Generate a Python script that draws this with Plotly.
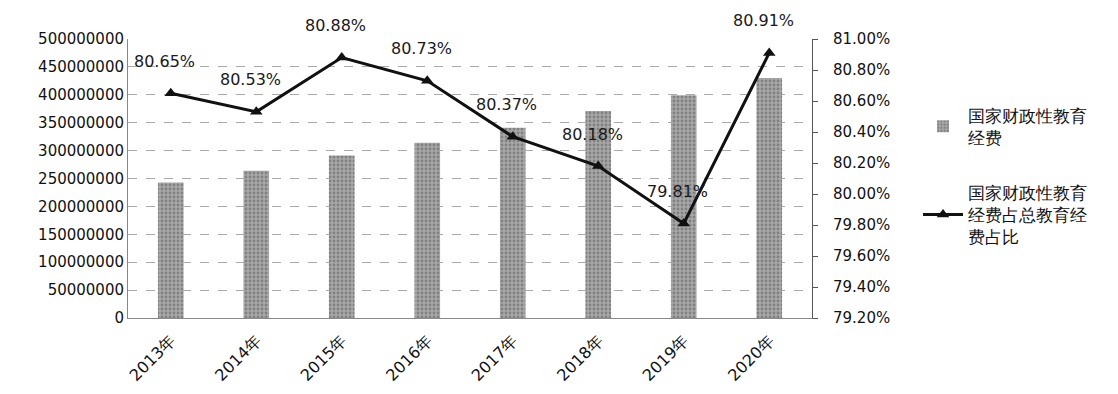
import plotly.graph_objects as go

years = ["2013年", "2014年", "2015年", "2016年", "2017年", "2018年", "2019年", "2020年"]
funding = [243000000, 264000000, 291000000, 314000000, 341000000, 371000000, 399000000, 430000000]
share = [80.65, 80.53, 80.88, 80.73, 80.37, 80.18, 79.81, 80.91]
share_labels = ["80.65%", "80.53%", "80.88%", "80.73%", "80.37%", "80.18%", "79.81%", "80.91%"]
left_ticks = list(range(0, 500000001, 50000000))
right_ticks = [79.2, 79.4, 79.6, 79.8, 80.0, 80.2, 80.4, 80.6, 80.8, 81.0]

FONT = "DejaVu Sans"

fig = go.Figure()
fig.add_trace(go.Bar(
    x=years, y=funding, name="国家财政性教育<br>经费",
    width=0.3, legendgroup="a",
    marker=dict(color="#a0a0a0", line=dict(width=0),
                pattern=dict(shape=".", fgcolor="#5a5a5a", bgcolor="#a8a8a8", size=4, solidity=0.4)),
))
fig.add_trace(go.Scatter(
    x=years, y=share, name="国家财政性教育<br>经费占总教育经<br>费占比", yaxis="y2",
    mode="lines+markers", legendgroup="b",
    line=dict(color="#111111", width=3),
    marker=dict(symbol="triangle-up", size=11, color="#111111"),
))
for x, y, t in zip(years, share, share_labels):
    fig.add_annotation(x=x, y=y, yref="y2", text=t, showarrow=False,
                       yshift=32, xshift=-6,
                       font=dict(family=FONT, size=16, color="#1a1a1a"))

fig.update_layout(
    width=1118, height=394,
    margin=dict(l=128, r=306, t=39, b=76),
    paper_bgcolor="white", plot_bgcolor="white",
    font=dict(family=FONT, size=15, color="#222222"),
    bargap=0.7,
    xaxis=dict(tickangle=-45, showgrid=False, showline=True, linecolor="#888888",
               ticklabelstandoff=6, automargin=False,
               tickfont=dict(family=FONT, size=16, color="#111111")),
    yaxis=dict(range=[0, 500000000], tickvals=left_ticks, ticktext=[str(v) for v in left_ticks],
               showgrid=True, gridcolor="#aaaaaa", griddash="dash", gridwidth=1,
               showline=True, linecolor="#888888", zeroline=False, ticks="", ticklen=4,
               automargin=False,
               tickfont=dict(family=FONT, size=15, color="#111111")),
    yaxis2=dict(range=[79.2, 81.0], tickvals=right_ticks,
                ticktext=[f"{v:.2f}%" for v in right_ticks],
                overlaying="y", side="right", showgrid=False,
                showline=True, linecolor="#555555", ticks="outside", ticklen=5, tickcolor="#555555",
                ticklabelstandoff=12, automargin=False,
                tickfont=dict(family=FONT, size=15, color="#111111")),
    legend=dict(x=1.155, y=0.79, xanchor="left", yanchor="top",
                font=dict(family=FONT, size=17, color="#111111"),
                tracegroupgap=30, itemwidth=40),
    showlegend=True,
)

fig.write_html("out.html")
